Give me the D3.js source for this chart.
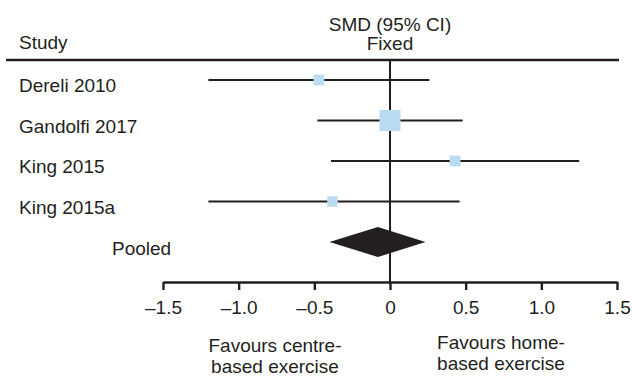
<!DOCTYPE html>
<html>
<head>
<meta charset="utf-8">
<script src="https://d3js.org/d3.v7.min.js"></script>
<style>
body { margin: 0; background: #fff; }
svg { display: block; font-family: 'Liberation Sans', Arial, sans-serif; }
</style>
</head>
<body>
<svg></svg>
<script>

// Study rows
var studies = ["Dereli 2010", "Gandolfi 2017", "King 2015", "King 2015a"];
var smd = [-0.47, 0.0, 0.43, -0.38];
var lower = [-1.2, -0.48, -0.39, -1.2];
var upper = [0.26, 0.48, 1.25, 0.46];
var weights = [15, 57, 15, 14];

// Pooled (fixed effect)
var pooledLabel = "Pooled";
var pooledEst = -0.08;
var pooledLower = -0.40;
var pooledUpper = 0.235;

var tickValues = [-1.5, -1.0, -0.5, 0, 0.5, 1.0, 1.5];
var leftNote = ["Favours centre-", "based exercise"];
var rightNote = ["Favours home-", "based exercise"];

var width = 632;
var height = 378;
var ink = "#231f20";
var boxFill = "#b9dcf2";
var fontSize = 19;

var svg = d3.select("svg").attr("width", width).attr("height", height);

var x = d3.scaleLinear().domain([-1.5, 1.5]).range([163, 617]);
var y = d3.scalePoint().domain(studies.concat([pooledLabel])).range([80, 242]);
var boxSize = d3.scaleSqrt().domain([0, d3.max(weights)]).range([0, 21]);

var headerY = 60;
var axisY = 282;

// header
svg.append("text").attr("x", 19).attr("y", 49)
	.attr("font-size", fontSize).attr("fill", ink).text("Study");
svg.append("text").attr("x", x(0)).attr("y", 31).attr("text-anchor", "middle")
	.attr("font-size", fontSize).attr("fill", ink).text("SMD (95% CI)");
svg.append("text").attr("x", x(0)).attr("y", 50).attr("text-anchor", "middle")
	.attr("font-size", fontSize).attr("fill", ink).text("Fixed");
svg.append("line").attr("x1", 6).attr("x2", x(1.5) + 2)
	.attr("y1", headerY).attr("y2", headerY)
	.attr("stroke", ink).attr("stroke-width", 2.4);

// line of no effect
svg.append("line").attr("x1", x(0)).attr("x2", x(0))
	.attr("y1", headerY).attr("y2", axisY)
	.attr("stroke", ink).attr("stroke-width", 2);

// study labels
svg.selectAll("text.study").data(studies).enter().append("text")
	.attr("class", "study")
	.attr("x", 19)
	.attr("y", function (d) { return y(d) + 12; })
	.attr("font-size", fontSize).attr("fill", ink)
	.text(function (d) { return d; });

// confidence intervals
svg.selectAll("line.ci").data(studies).enter().append("line")
	.attr("class", "ci")
	.attr("x1", function (d, i) { return x(lower[i]); })
	.attr("x2", function (d, i) { return x(upper[i]); })
	.attr("y1", function (d) { return y(d); })
	.attr("y2", function (d) { return y(d); })
	.attr("stroke", ink).attr("stroke-width", 2.2);

// point estimates
svg.selectAll("rect.box").data(studies).enter().append("rect")
	.attr("class", "box")
	.attr("x", function (d, i) { return x(smd[i]) - boxSize(weights[i]) / 2; })
	.attr("y", function (d, i) { return y(d) - boxSize(weights[i]) / 2; })
	.attr("width", function (d, i) { return boxSize(weights[i]); })
	.attr("height", function (d, i) { return boxSize(weights[i]); })
	.attr("fill", boxFill);

// pooled diamond
var py = y(pooledLabel);
svg.append("text").attr("x", 112).attr("y", py + 13)
	.attr("font-size", fontSize).attr("fill", ink).text(pooledLabel);
svg.append("path")
	.attr("d", "M" + x(pooledLower) + "," + py +
		"L" + x(pooledEst) + "," + (py - 15) +
		"L" + x(pooledUpper) + "," + py +
		"L" + x(pooledEst) + "," + (py + 15) + "Z")
	.attr("fill", ink);

// axis
var fmt = function (d) {
	if (d === 0) return "0";
	var s = Math.abs(d).toFixed(1);
	return d < 0 ? "\u2013" + s : s;
};
var axis = svg.append("g")
	.attr("transform", "translate(0," + axisY + ")")
	.call(d3.axisBottom(x).tickValues(tickValues).tickFormat(fmt).tickSize(8).tickPadding(11).tickSizeOuter(0));
axis.select(".domain").attr("stroke", ink).attr("stroke-width", 2.4);
axis.selectAll(".tick line").attr("stroke", ink).attr("stroke-width", 2.4);
axis.selectAll(".tick text").attr("fill", ink).attr("font-size", fontSize)
	.attr("font-family", "'Liberation Sans', Arial, sans-serif");

// direction notes
svg.append("text").attr("y", 352).attr("text-anchor", "middle")
	.attr("font-size", fontSize).attr("fill", ink)
	.selectAll("tspan").data(leftNote).enter().append("tspan")
	.attr("x", 275).attr("dy", function (d, i) { return i ? 21 : 0; })
	.text(function (d) { return d; });
svg.append("text").attr("y", 349).attr("text-anchor", "middle")
	.attr("font-size", fontSize).attr("fill", ink)
	.selectAll("tspan").data(rightNote).enter().append("tspan")
	.attr("x", 501).attr("dy", function (d, i) { return i ? 21 : 0; })
	.text(function (d) { return d; });

</script>
</body>
</html>
